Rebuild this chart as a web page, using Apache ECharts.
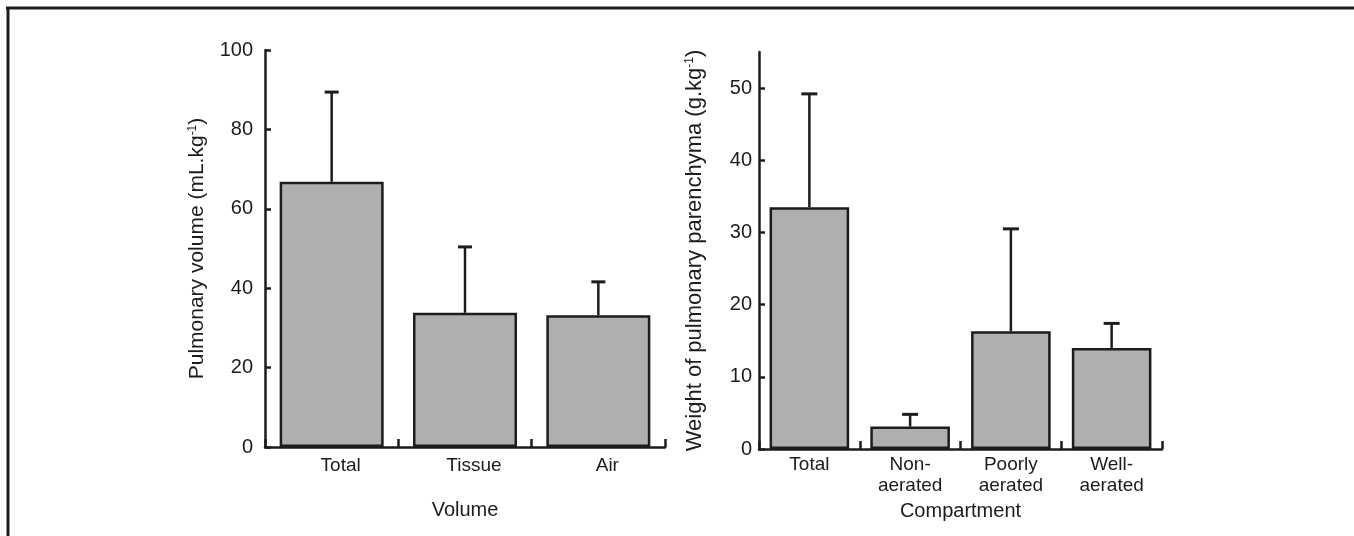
<!DOCTYPE html>
<html><head><meta charset="utf-8">
<script src="https://cdn.jsdelivr.net/npm/echarts@6/dist/echarts.min.js"></script>
<style>html,body{margin:0;padding:0;background:#fff}#c{width:1354px;height:536px}</style>
</head><body><div id="c"></div>
<script>
// Left panel: pulmonary volume
const volCategories = ['Total', 'Tissue', 'Air'];
const volMeans = [66.8, 33.8, 33.2];
const volErr = [22.6, 16.6, 8.4];
const volTicks = [0, 20, 40, 60, 80, 100];
// Right panel: weight by compartment
const compCategories = ['Total', 'Non-\naerated', 'Poorly\naerated', 'Well-\naerated'];
const compMeans = [33.5, 3.1, 16.3, 14.0];
const compErr = [15.7, 1.7, 14.2, 3.4];
const compTicks = [0, 10, 20, 30, 40, 50];

const INK = '#1c1c1c';
const FILL = '#adafb1';
const FONT = "'Liberation Sans', Arial, sans-serif";

function errorRender(capW) {
  return function (params, api) {
    const x = api.value(0), m = api.value(1), e = api.value(2);
    const p0 = api.coord([x, m]);
    const p1 = api.coord([x, m + e]);
    return {
      type: 'group',
      children: [
        { type: 'line', shape: { x1: p0[0], y1: p0[1], x2: p1[0], y2: p1[1] }, style: { stroke: INK, lineWidth: 2.5 } },
        { type: 'line', shape: { x1: p1[0] - capW / 2, y1: p1[1], x2: p1[0] + capW / 2, y2: p1[1] }, style: { stroke: INK, lineWidth: 3 } }
      ]
    };
  };
}

const chart = echarts.init(document.getElementById('c'), null, { renderer: 'canvas' });
const supRich = { sup: { fontSize: 12, verticalAlign: 'top', lineHeight: 10, fontFamily: FONT, color: INK } };

chart.setOption({
  animation: false,
  backgroundColor: '#fff',
  textStyle: { fontFamily: FONT, color: INK },
  graphic: [
    { type: 'line', shape: { x1: 6, y1: 8, x2: 1354, y2: 8 }, style: { stroke: '#1e1e1e', lineWidth: 3 } },
    { type: 'line', shape: { x1: 8, y1: 7, x2: 8, y2: 536 }, style: { stroke: '#1e1e1e', lineWidth: 3 } }
  ],
  grid: [
    { left: 265, top: 50, width: 400, height: 397 },
    { left: 759, top: 52, width: 403, height: 397 }
  ],
  xAxis: [
    {
      gridIndex: 0, type: 'category', data: volCategories,
      name: 'Volume', nameLocation: 'middle', nameGap: 53,
      nameTextStyle: { fontSize: 20, color: INK, fontFamily: FONT },
      axisLine: { lineStyle: { color: INK, width: 2.5 } },
      axisTick: { show: true, inside: true, length: 8, alignWithLabel: false, interval: 0, lineStyle: { color: INK, width: 2.5 } },
      axisLabel: { fontSize: 19, color: INK, fontFamily: FONT, margin: 9, padding: [0, 0, 0, 18], interval: 0 }
    },
    {
      gridIndex: 1, type: 'category', data: compCategories,
      name: 'Compartment', nameLocation: 'middle', nameGap: 52,
      nameTextStyle: { fontSize: 20, color: INK, fontFamily: FONT },
      axisLine: { lineStyle: { color: INK, width: 2.5 } },
      axisTick: { show: true, inside: true, length: 8, alignWithLabel: false, interval: 0, lineStyle: { color: INK, width: 2.5 } },
      axisLabel: { fontSize: 19, color: INK, fontFamily: FONT, margin: 5, lineHeight: 21, interval: 0 }
    }
  ],
  yAxis: [
    {
      gridIndex: 0, type: 'value', min: 0, max: 100, interval: 20,
      name: 'Pulmonary volume (mL.kg{sup|-1})', nameLocation: 'middle', nameGap: 57, nameRotate: 90,
      nameTextStyle: { fontSize: 21, color: INK, fontFamily: FONT, rich: supRich },
      axisLine: { show: true, lineStyle: { color: INK, width: 2.5 } },
      axisTick: { show: true, inside: true, length: 6, customValues: volTicks, lineStyle: { color: INK, width: 2.5 } },
      axisLabel: { fontSize: 20, color: INK, fontFamily: FONT, margin: 12, customValues: volTicks },
      splitLine: { show: false }
    },
    {
      gridIndex: 1, type: 'value', min: 0, max: 55, interval: 10,
      name: 'Weight of pulmonary parenchyma (g.kg{sup|-1})', nameLocation: 'middle', nameGap: 53, nameRotate: 90,
      nameTextStyle: { fontSize: 22, color: INK, fontFamily: FONT, rich: supRich },
      axisLine: { show: true, lineStyle: { color: INK, width: 2.5 } },
      axisTick: { show: true, inside: true, length: 6, customValues: compTicks, lineStyle: { color: INK, width: 2.5 } },
      axisLabel: { fontSize: 20, color: INK, fontFamily: FONT, margin: 7, customValues: compTicks },
      splitLine: { show: false }
    }
  ],
  series: [
    {
      type: 'bar', xAxisIndex: 0, yAxisIndex: 0, data: volMeans, barCategoryGap: '22%',
      itemStyle: { color: FILL, borderColor: INK, borderWidth: 2.5 }
    },
    {
      type: 'custom', xAxisIndex: 0, yAxisIndex: 0, z: 5,
      data: volMeans.map((m, i) => [i, m, volErr[i]]),
      renderItem: errorRender(14)
    },
    {
      type: 'bar', xAxisIndex: 1, yAxisIndex: 1, data: compMeans, barCategoryGap: '21%',
      itemStyle: { color: FILL, borderColor: INK, borderWidth: 2.5 }
    },
    {
      type: 'custom', xAxisIndex: 1, yAxisIndex: 1, z: 5,
      data: compMeans.map((m, i) => [i, m, compErr[i]]),
      renderItem: errorRender(16)
    }
  ]
});
</script>
</body></html>
